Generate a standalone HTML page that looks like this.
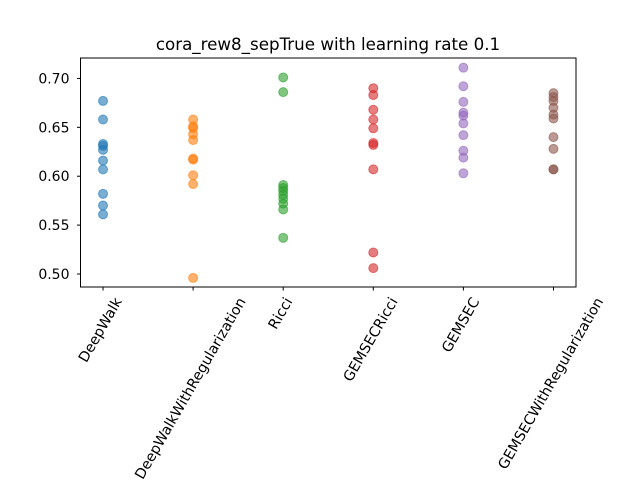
<!DOCTYPE html>
<html><head><meta charset="utf-8"><style>body{margin:0;background:#fff}svg{display:block;font-family:"DejaVu Sans","Liberation Sans",sans-serif}</style></head>
<body>
<svg id="chart" width="640" height="480" xmlns="http://www.w3.org/2000/svg">
<rect width="640" height="480" fill="#fff"/>
<text x="328" y="50" text-anchor="middle" font-size="16.7">cora_rew8_sepTrue with learning rate 0.1</text>
<g id="plot"></g>
</svg>
<script>
const categories = ["DeepWalk","DeepWalkWithRegularization","Ricci","GEMSECRicci","GEMSEC","GEMSECWithRegularization"];
const colors = ["#1f77b4","#ff7f0e","#2ca02c","#d62728","#9467bd","#8c564b"];
const valsDeepWalk = [0.677,0.658,0.633,0.631,0.627,0.616,0.607,0.582,0.570,0.561];
const valsDeepWalkReg = [0.658,0.651,0.649,0.643,0.637,0.618,0.617,0.601,0.592,0.496];
const valsRicci = [0.701,0.686,0.591,0.588,0.585,0.581,0.577,0.572,0.566,0.537];
const valsGEMSECRicci = [0.690,0.683,0.668,0.658,0.649,0.634,0.632,0.607,0.522,0.506];
const valsGEMSEC = [0.711,0.692,0.676,0.665,0.662,0.654,0.642,0.626,0.619,0.603];
const valsGEMSECReg = [0.685,0.681,0.677,0.670,0.663,0.659,0.640,0.628,0.607,0.607];
const yTicks = [0.50,0.55,0.60,0.65,0.70];
const series = [valsDeepWalk,valsDeepWalkReg,valsRicci,valsGEMSECRicci,valsGEMSEC,valsGEMSECReg];

const L=80.5,R=576,T=58,B=287,yMin=0.4867,yMax=0.7209,xMin=-0.25,xMax=5.25;
const xs=i=>L+(i-xMin)/(xMax-xMin)*(R-L);
const ys=v=>B-(v-yMin)/(yMax-yMin)*(B-T);
const NS="http://www.w3.org/2000/svg";
const g=document.getElementById('plot');
function mk(t,a){const e=document.createElementNS(NS,t);for(const k in a)e.setAttribute(k,a[k]);g.appendChild(e);return e;}

series.forEach((arr,i)=>{arr.forEach((v,j)=>{
  const c=mk('circle',{cx:xs(i),cy:ys(v),r:4.5,fill:colors[i],'fill-opacity':0.6,stroke:colors[i],'stroke-opacity':0.6,'stroke-width':1});
  
  
});});

const frame=mk('rect',{x:L,y:T,width:R-L,height:B-T,fill:'none',stroke:'#000','stroke-width':1});



yTicks.forEach(v=>{
  mk('line',{x1:L-3.5,x2:L,y1:ys(v),y2:ys(v),stroke:'#000'});
  const t=mk('text',{x:L-11,y:ys(v)+5,'text-anchor':'end','font-size':14});
  t.textContent=v.toFixed(2);
  
  
});
const fs=14.3, s60=Math.sin(Math.PI/3), c60=0.5;
categories.forEach((c,i)=>{
  const x=xs(i);
  mk('line',{x1:x,x2:x,y1:B,y2:B+3.5,stroke:'#000'});
  const t=mk('text',{x:0,y:0,'text-anchor':'middle','font-size':fs});
  t.textContent=c;
  
  
  const len=t.getComputedTextLength();
  const h=fs*1.15;
  const bh=len*s60+h*c60;
  const cy=B+3.5+4+bh/2;
  const cx=x-3;
  t.setAttribute('x',cx);t.setAttribute('y',cy+fs*0.35);
  t.setAttribute('transform',`rotate(-60 ${cx} ${cy})`);
});
</script>
</body></html>
